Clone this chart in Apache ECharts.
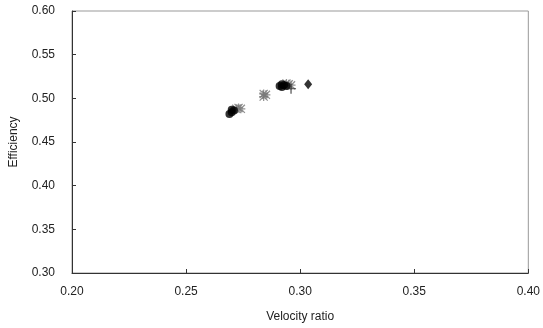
<!DOCTYPE html>
<html><head><meta charset="utf-8">
<script src="https://cdn.jsdelivr.net/npm/echarts@6/dist/echarts.min.js"></script>
<style>html,body{margin:0;padding:0;background:#fff}#c{width:543px;height:328px}</style>
</head><body><div id="c"></div>
<script>
// Data
const xTicks = [0.20, 0.25, 0.30, 0.35, 0.40];
const yTicks = [0.30, 0.35, 0.40, 0.45, 0.50, 0.55, 0.60];
const circlesX = [0.269, 0.270, 0.271, 0.270, 0.291, 0.292, 0.293, 0.294, 0.292];
const circlesY = [0.482, 0.484, 0.486, 0.487, 0.514, 0.513, 0.515, 0.514, 0.516];
const starsX = [0.272, 0.273, 0.274, 0.284, 0.285, 0.284, 0.295, 0.296, 0.294];
const starsY = [0.488, 0.489, 0.488, 0.502, 0.504, 0.505, 0.516, 0.515, 0.517];
const plusX = [0.296];
const plusY = [0.511];
const diamondX = [0.3035];
const diamondY = [0.516];

const zip = (a, b) => a.map((v, i) => [v, b[i]]);
const starPath = 'path://M4.3,0h1.4v10h-1.4z M0,4.3h10v1.4h-10z M1,0l9,9l-1,1l-9,-9z M9,0l1,1l-9,9l-1,-1z';
const plusPath = 'path://M4.4,0h1.2v10h-1.2z M0,4.4h10v1.2h-10z';

const chart = echarts.init(document.getElementById('c'));
const axisLabel = {color: '#222', fontFamily: 'Liberation Sans, Arial, sans-serif', fontSize: 12};
chart.setOption({
  animation: false,
  backgroundColor: '#fff',
  grid: {left: 70, top: 11, right: 12, bottom: 55, show: true, borderColor: '#999', borderWidth: 1, backgroundColor: 'transparent'},
  xAxis: {
    type: 'value', min: 0.20, max: 0.40, interval: 0.05,
    name: 'Velocity ratio', nameLocation: 'middle', nameGap: 38,
    nameTextStyle: {color: '#222', fontFamily: 'Liberation Sans, Arial, sans-serif', fontSize: 12},
    axisLine: {lineStyle: {color: '#333', width: 1}},
    axisTick: {inside: true, length: 4, lineStyle: {color: '#333'}},
    splitLine: {show: false},
    axisLabel: Object.assign({margin: 13, formatter: v => v.toFixed(2)}, axisLabel)
  },
  yAxis: {
    type: 'value', min: 0.30, max: 0.60, interval: 0.05,
    name: 'Efficiency', nameLocation: 'middle', nameGap: 52, nameRotate: 90,
    nameTextStyle: {color: '#222', fontFamily: 'Liberation Sans, Arial, sans-serif', fontSize: 12},
    axisLine: {show: true, lineStyle: {color: '#333', width: 1}},
    axisTick: {show: true, inside: true, length: 4, lineStyle: {color: '#333'}},
    splitLine: {show: false},
    axisLabel: Object.assign({margin: 17, formatter: v => v.toFixed(2)}, axisLabel)
  },
  series: [
    {type: 'scatter', data: zip(starsX, starsY), symbol: starPath, symbolSize: 9, itemStyle: {color: '#777'}},
    {type: 'scatter', data: zip(circlesX, circlesY), symbol: 'circle', symbolSize: 8, itemStyle: {color: '#000'}},
    {type: 'scatter', data: zip(plusX, plusY), symbol: plusPath, symbolSize: 10, itemStyle: {color: '#222'}},
    {type: 'scatter', data: zip(diamondX, diamondY), symbol: 'diamond', symbolSize: [8, 10], itemStyle: {color: '#000'}}
  ]
});
</script></body></html>
